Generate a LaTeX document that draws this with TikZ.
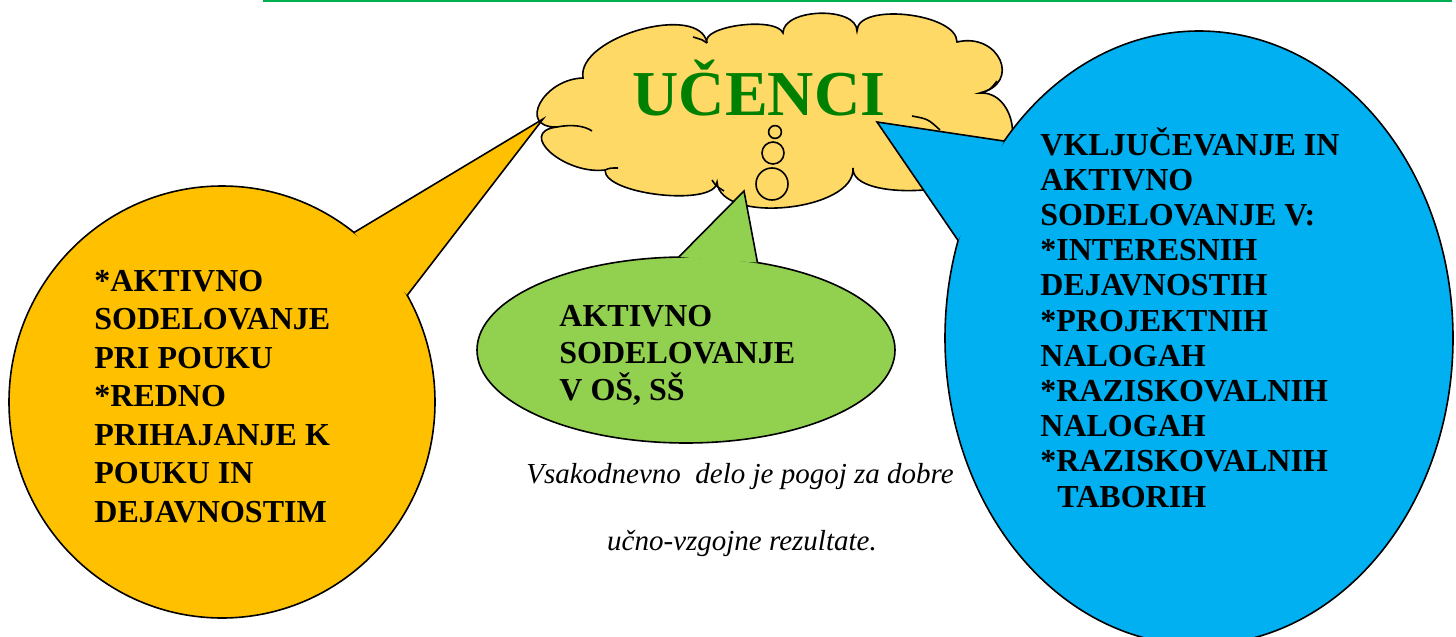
\documentclass[tikz,border=0pt]{standalone}
\usepackage{fontspec}
\setmainfont{Liberation Serif}
\usetikzlibrary{calc}
\definecolor{orangeB}{HTML}{FFC000}
\definecolor{greenB}{HTML}{92D050}
\definecolor{blueB}{HTML}{00B0F0}
\definecolor{cloudY}{HTML}{FFD966}
\definecolor{titleG}{HTML}{008000}
\definecolor{lineG}{HTML}{00B050}
\begin{document}
\begin{tikzpicture}[x=0.5pt,y=-0.5pt,
  outl/.style={draw=black,line width=0.8pt,line join=miter},
  inarc/.style={draw=black,line width=0.8pt},
  btext/.style={align=left,inner sep=0pt,anchor=base west,text=black},
  bfont/.style={font=\fontsize{16}{#1}\selectfont\bfseries},
  note/.style={font=\fontsize{14.5}{17}\selectfont\itshape,inner sep=0pt,anchor=base}]
\useasboundingbox (0,0) rectangle (1456,637);
\clip (0,0) rectangle (1456,637);
% top rule
\coordinate (ruleL) at (263,1);
\coordinate (ruleR) at (1452,1);
\draw[lineG,line width=1.2pt] (ruleL) -- (ruleR);

% cloud
\draw[outl,fill=cloudY] (557,127)
  .. controls (517,128) and (543,79) .. (583,78)
  .. controls (576,37) and (700,2) .. (707,43)
  .. controls (700,26) and (776,16) .. (783,33)
  .. controls (783,8) and (857,6) .. (857,31)
  .. controls (857,2) and (957,13) .. (957,42)
  .. controls (999,32) and (1022,83) .. (980,93)
  .. controls (1016,91) and (1026,158) .. (990,160)
  .. controls (988,195) and (851,203) .. (853,168)
  .. controls (856,211) and (720,225) .. (717,182)
  .. controls (716,207) and (604,195) .. (605,170)
  .. controls (564,175) and (516,132) .. (557,127) -- cycle;
\draw[inarc] (557,127) .. controls (572,124) and (585,126) .. (592,131);
\draw[inarc] (707,43) .. controls (703,40) .. (693,37);
\draw[inarc] (980,93) .. controls (990,90) .. (997,81);
\draw[inarc] (912,116) .. controls (928,119) .. (940,130);
\draw[inarc] (712,180) .. controls (716,186) .. (724,191);
\draw[inarc] (605,170) .. controls (610,168) .. (618,168);
% thought circles
\draw[outl] (775,132) circle[radius=3.2pt];
\draw[outl] (773,153) circle[radius=5.5pt];
\draw[outl] (772,184) circle[radius=8pt];
\node[font=\fontsize{32}{38}\selectfont\bfseries,text=titleG,inner sep=0pt,anchor=base] (title) at (759,115) {UČENCI};

% orange callout
\coordinate (oc) at (222,402);
\coordinate (otip) at (543,119);
\coordinate (ob1) at ($(oc)+({213*cos(-51.7)},{216*sin(-51.7)})$);
\coordinate (ob2) at ($(oc)+({213*cos(-29.6)},{216*sin(-29.6)})$);
\draw[outl,fill=orangeB] (oc) ellipse[x radius=106.5pt,y radius=108pt];
\fill[orangeB] (ob1) -- (otip) -- (ob2) -- cycle;
\draw[outl] (ob1) -- (otip) -- (ob2);
\node[btext,bfont=19.25] (otext) at (94,522) {*AKTIVNO\\SODELOVANJE\\PRI POUKU\\*REDNO\\PRIHAJANJE K\\POUKU IN\\DEJAVNOSTIM};

% green callout
\coordinate (gc) at (686,350);
\coordinate (gtip) at (744,191);
\coordinate (gb1) at ($(gc)+({209*cos(-92)},{93*sin(-92)})$);
\coordinate (gb2) at ($(gc)+({209*cos(-70)},{93*sin(-70)})$);
\draw[outl,fill=greenB] (gc) ellipse[x radius=104.5pt,y radius=46.5pt];
\fill[greenB] (gb1) -- (gtip) -- (gb2) -- cycle;
\draw[outl] (gb1) -- (gtip) -- (gb2);
\node[btext,bfont=18.5] (gtext) at (559,400) {AKTIVNO\\SODELOVANJE\\V OŠ, SŠ};

% blue callout
\coordinate (bc) at (1199,338);
\coordinate (btip) at (877,122);
\coordinate (bb1) at ($(bc)+({254*cos(-140.1)},{307*sin(-140.1)})$);
\coordinate (bb2) at ($(bc)+({254*cos(-161.5)},{307*sin(-161.5)})$);
\draw[outl,fill=blueB] (bc) ellipse[x radius=127pt,y radius=153.5pt];
\fill[blueB] (bb1) -- (btip) -- (bb2) -- cycle;
\draw[outl] (bb1) -- (btip) -- (bb2);
\node[btext,bfont=17.6] (btext) at (1040,507) {VKLJUČEVANJE IN\\AKTIVNO\\SODELOVANJE V:\\*INTERESNIH\\DEJAVNOSTIH\\*PROJEKTNIH\\NALOGAH\\*RAZISKOVALNIH\\NALOGAH\\*RAZISKOVALNIH\\\hspace*{8.5pt}TABORIH};

% note
\node[note] (note1) at (740,483) {Vsakodnevno~ delo je pogoj za dobre};
\node[note] (note2) at (742,550) {učno-vzgojne rezultate.};
\end{tikzpicture}
\end{document}
